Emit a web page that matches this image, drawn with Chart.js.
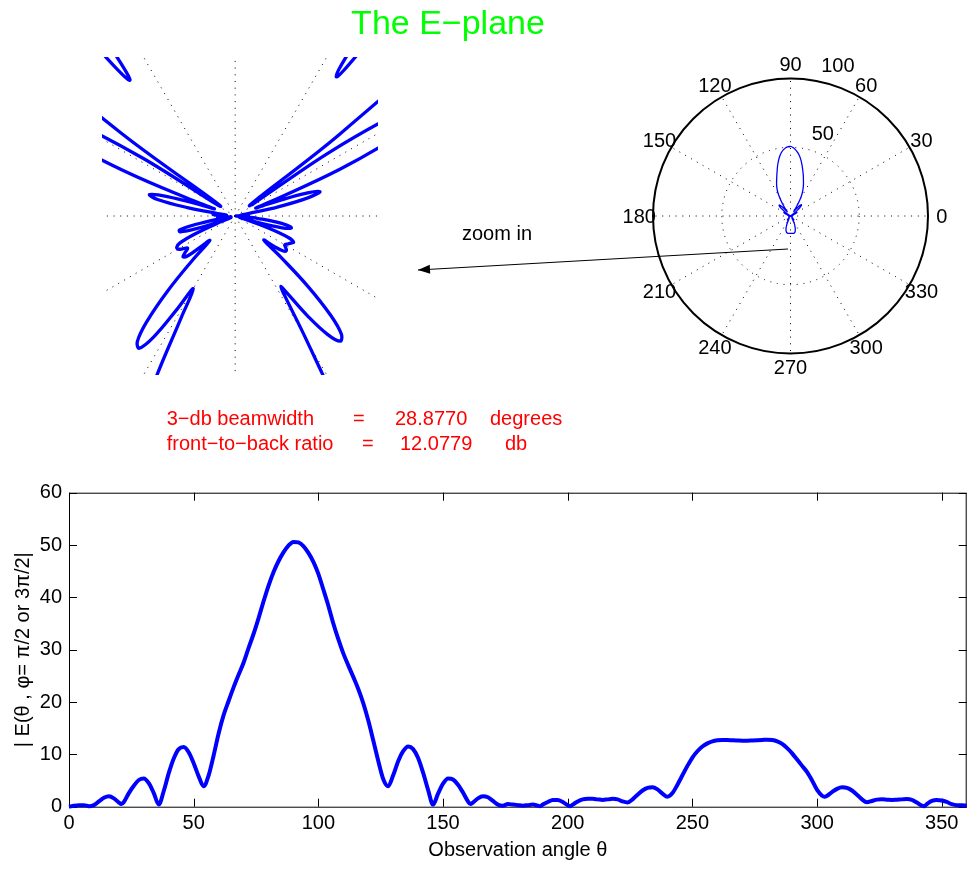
<!DOCTYPE html>
<html>
<head>
<meta charset="utf-8">
<title>The E-plane</title>
<script src="https://cdn.jsdelivr.net/npm/chart.js@4.4.0/dist/chart.umd.min.js"></script>
<style>
  html, body { margin: 0; padding: 0; background: #fff; }
  #wrap { position: relative; width: 968px; height: 869px; overflow: hidden; }
  #wrap canvas { position: absolute; left: 0; top: 0; }
</style>
</head>
<body>
<div id="wrap">
  <canvas id="cLine" width="968" height="869"></canvas>
  <canvas id="cZoom" width="968" height="869"></canvas>
  <canvas id="cPolar" width="968" height="869"></canvas>
</div>
<script>
// ===== data =====
const angles = [
  0, 2, 4, 6, 8, 10, 12, 14, 16, 18, 20, 21, 22, 24, 26, 28, 30, 32, 34, 36, 38, 40,
  42, 44, 46, 48, 50, 52, 54, 56, 58, 60, 62, 64, 66, 68, 70, 72, 74, 76, 78, 80,
  82, 84, 86, 88, 90, 92, 94, 96, 98, 100, 102, 104, 106, 108, 110, 112, 114, 116, 118, 120,
  122, 124, 126, 128, 130, 132, 134, 136, 138, 140, 142, 144, 146, 148, 150, 152, 154, 156, 158, 160,
  161, 162, 164, 166, 168, 170, 172, 174, 176, 178, 180, 182, 184, 186, 188, 189, 190, 192, 194, 196,
  198, 200, 201, 202, 204, 206, 208, 210, 212, 214, 216, 218, 220, 222, 224, 226, 228, 230, 232, 234,
  236, 238, 240, 242, 244, 246, 248, 250, 252, 254, 256, 258, 260, 262, 264, 266, 268, 270, 272, 274,
  276, 278, 280, 282, 284, 286, 288, 290, 292, 294, 296, 298, 300, 302, 303, 304, 306, 308, 310, 312,
  314, 316, 318, 320, 322, 324, 326, 328, 330, 332, 334, 336, 338, 340, 342, 343, 344, 346, 348, 350,
  352, 354, 356, 358, 360
];
const efield = [
  0.0, 0.2, 0.3, 0.3, 0.1, 0.3, 1.0, 1.7, 2.0, 1.6, 0.8, 0.5, 0.9, 2.6, 4.0, 5.1, 5.4, 4.5, 2.6, 0.4, 3.0, 6.4,
  9.2, 11.0, 11.4, 10.4, 8.3, 5.8, 3.9, 6.0, 9.8, 14.0, 17.5, 20.2, 22.8, 25.2, 27.5, 30.3, 33.0, 36.0, 39.2, 42.2,
  44.8, 46.9, 48.6, 49.9, 50.6, 50.5, 49.8, 48.5, 46.8, 44.5, 41.5, 38.4, 35.0, 32.0, 29.3, 27.0, 24.8, 22.5, 19.8, 16.5,
  12.7, 8.8, 5.3, 3.9, 6.0, 8.7, 10.6, 11.5, 11.0, 9.3, 6.5, 3.2, 0.4, 2.5, 4.4, 5.4, 5.2, 4.2, 2.7, 1.0,
  0.5, 0.8, 1.6, 2.0, 1.8, 1.1, 0.4, 0.2, 0.5, 0.4, 0.3, 0.2, 0.3, 0.4, 0.2, 0.1, 0.4, 0.9, 1.3, 1.3,
  0.9, 0.3, 0.1, 0.4, 1.0, 1.4, 1.5, 1.5, 1.4, 1.3, 1.4, 1.5, 1.4, 1.0, 0.8, 1.4, 2.3, 3.1, 3.6, 3.7,
  3.3, 2.5, 1.9, 2.6, 4.2, 6.0, 7.8, 9.4, 10.6, 11.5, 12.1, 12.5, 12.7, 12.75, 12.75, 12.7, 12.65, 12.6, 12.6, 12.65,
  12.7, 12.75, 12.8, 12.75, 12.5, 12.0, 11.2, 10.2, 9.0, 7.8, 6.6, 5.0, 3.2, 2.1, 1.9, 2.1, 2.8, 3.4, 3.7, 3.6,
  3.1, 2.3, 1.4, 0.85, 1.1, 1.35, 1.4, 1.35, 1.3, 1.35, 1.4, 1.45, 1.3, 0.8, 0.2, 0.1, 0.5, 1.1, 1.3, 1.2,
  0.9, 0.5, 0.3, 0.3, 0.2
];
const xTicks = [0, 50, 100, 150, 200, 250, 300, 350];
const yTicks = [0, 10, 20, 30, 40, 50, 60];
const spokeAngles = [0, 30, 60, 90, 120, 150, 180, 210, 240, 270, 300, 330];
const polarRings = [50, 100];
const polarMax = 100;

(function () {
  const FONT = "'Liberation Sans', Arial, Helvetica, sans-serif";
  const BLUE = "#0000ff";
  const rad = (d) => (d * Math.PI) / 180;

  Chart.defaults.font.family = FONT;
  Chart.defaults.color = "#000";

  // polar -> cartesian, the scatter scales do the rest
  const polarPts = angles.map((a, i) => ({
    x: efield[i] * Math.cos(rad(a)),
    y: efield[i] * Math.sin(rad(a)),
  }));

  const baseOpts = {
    responsive: false,
    animation: false,
    devicePixelRatio: 1,
    events: [],
    plugins: { legend: { display: false }, tooltip: { enabled: false } },
  };

  // ===== bottom: |E| vs angle =====
  const frameTicks = {
    id: "frameTicks",
    beforeDatasetsDraw(chart) {
      const { ctx, chartArea: a, scales } = chart;
      const tl = 8;
      ctx.save();
      ctx.strokeStyle = "#000";
      ctx.lineWidth = 1;
      ctx.strokeRect(a.left + 0.5, a.top + 0.5, a.right - a.left - 1, a.bottom - a.top);
      ctx.beginPath();
      xTicks.forEach((v) => {
        const px = Math.round(scales.x.getPixelForValue(v)) + 0.5;
        ctx.moveTo(px, a.bottom); ctx.lineTo(px, a.bottom - tl);
        ctx.moveTo(px, a.top); ctx.lineTo(px, a.top + tl);
      });
      yTicks.forEach((v) => {
        const py = Math.round(scales.y.getPixelForValue(v)) + 0.5;
        ctx.moveTo(a.left, py); ctx.lineTo(a.left + tl, py);
        ctx.moveTo(a.right, py); ctx.lineTo(a.right - tl, py);
      });
      ctx.stroke();
      ctx.restore();
    },
  };

  new Chart(document.getElementById("cLine"), {
    type: "scatter",
    data: {
      datasets: [{
        data: angles.map((a, i) => ({ x: a, y: efield[i] })),
        showLine: true,
        borderColor: BLUE,
        borderWidth: 4,
        pointRadius: 0,
        cubicInterpolationMode: "monotone",
        clip: false,
      }],
    },
    options: {
      ...baseOpts,
      layout: { padding: { top: 492.7, right: 1.3, bottom: 0, left: 0 } },
      scales: {
        x: {
          type: "linear", min: 0, max: 360,
          afterBuildTicks: (s) => { s.ticks = xTicks.map((v) => ({ value: v })); },
          afterFit: (s) => { s.height = 62.3; },
          grid: { display: false, drawTicks: false },
          border: { display: false },
          ticks: { padding: 5, autoSkip: false, maxRotation: 0, font: { size: 20 } },
          title: { display: true, text: "Observation angle θ", font: { size: 20 }, padding: { top: 0, bottom: 7 } },
        },
        y: {
          type: "linear", min: 0, max: 60,
          afterBuildTicks: (s) => { s.ticks = yTicks.map((v) => ({ value: v })); },
          afterFit: (s) => { s.width = 69; },
          grid: { display: false, drawTicks: false },
          border: { display: false },
          ticks: { padding: 7, font: { size: 20 } },
          title: { display: true, text: "| E(θ , φ= π/2 or 3π/2|", font: { size: 20 }, padding: { top: 11, bottom: 0 } },
        },
      },
    },
    plugins: [frameTicks],
  });

  // ===== dotted spokes helper =====
  function spokes(ctx, sx, sy, from, to) {
    ctx.beginPath();
    spokeAngles.forEach((d) => {
      ctx.moveTo(sx.getPixelForValue(from * Math.cos(rad(d))), sy.getPixelForValue(from * Math.sin(rad(d))));
      ctx.lineTo(sx.getPixelForValue(to * Math.cos(rad(d))), sy.getPixelForValue(to * Math.sin(rad(d))));
    });
    ctx.stroke();
  }

  // ===== top-left: zoomed polar =====
  const zoomGrid = {
    id: "zoomGrid",
    beforeDatasetsDraw(chart) {
      const { ctx, chartArea: a, scales } = chart;
      ctx.save();
      ctx.beginPath();
      ctx.rect(a.left, a.top, a.right - a.left, a.bottom - a.top);
      ctx.clip();
      ctx.strokeStyle = "#000";
      ctx.lineWidth = 1;
      ctx.setLineDash([1, 5.7]);
      spokes(ctx, scales.x, scales.y, 0, polarMax);
      ctx.restore();
    },
  };

  new Chart(document.getElementById("cZoom"), {
    type: "scatter",
    data: {
      datasets: [{
        data: polarPts,
        showLine: true,
        borderColor: BLUE,
        borderWidth: 3.3,
        pointRadius: 0,
        tension: 0.4,
      }],
    },
    options: {
      ...baseOpts,
      layout: { padding: { left: 102, top: 57, right: 968 - 378, bottom: 869 - 375 } },
      scales: {
        x: { type: "linear", display: false, min: -3.02, max: 3.24 },
        y: { type: "linear", display: false, min: -3.6, max: 3.6 },
      },
    },
    plugins: [zoomGrid],
  });

  // ===== top-right: full polar + annotations =====
  const polarGrid = {
    id: "polarGrid",
    beforeDatasetsDraw(chart) {
      const { ctx, scales } = chart;
      const sx = scales.x, sy = scales.y;
      const cx = sx.getPixelForValue(0), cy = sy.getPixelForValue(0);
      const k = sx.getPixelForValue(1) - cx;
      ctx.save();
      ctx.strokeStyle = "#000";
      ctx.lineWidth = 1;
      ctx.setLineDash([1, 5.7]);
      spokes(ctx, sx, sy, 0, polarMax);
      polarRings.slice(0, -1).forEach((r) => {
        ctx.beginPath();
        ctx.arc(cx, cy, r * k, 0, Math.PI * 2);
        ctx.stroke();
      });
      ctx.setLineDash([]);
      ctx.lineWidth = 2;
      ctx.beginPath();
      ctx.arc(cx, cy, polarMax * k, 0, Math.PI * 2);
      ctx.stroke();

      ctx.fillStyle = "#000";
      ctx.font = `20px ${FONT}`;
      ctx.textAlign = "center";
      ctx.textBaseline = "middle";
      spokeAngles.forEach((d) => {
        const r = polarMax * 1.1;
        ctx.fillText(String(d), sx.getPixelForValue(r * Math.cos(rad(d))), sy.getPixelForValue(r * Math.sin(rad(d))) + 1);
      });
      ctx.textAlign = "left";
      ctx.textBaseline = "bottom";
      polarRings.forEach((r) => {
        const rr = r + polarMax / 40;
        ctx.fillText("  " + r, sx.getPixelForValue(rr * Math.cos(rad(82))), sy.getPixelForValue(rr * Math.sin(rad(82))));
      });
      ctx.restore();
    },
    afterDraw(chart) {
      const { ctx, scales } = chart;
      ctx.save();
      // arrow: from inside the polar plot towards the zoomed view
      const x0 = scales.x.getPixelForValue(-1.8), y0 = scales.y.getPixelForValue(-24);
      const x1 = 418, y1 = 270;
      const ang = Math.atan2(y1 - y0, x1 - x0);
      ctx.strokeStyle = "#000";
      ctx.fillStyle = "#000";
      ctx.lineWidth = 1;
      ctx.beginPath();
      ctx.moveTo(x0, y0);
      ctx.lineTo(x1, y1);
      ctx.stroke();
      ctx.beginPath();
      ctx.moveTo(x1, y1);
      ctx.lineTo(x1 - 12 * Math.cos(ang) + 4.5 * Math.sin(ang), y1 - 12 * Math.sin(ang) - 4.5 * Math.cos(ang));
      ctx.lineTo(x1 - 12 * Math.cos(ang) - 4.5 * Math.sin(ang), y1 - 12 * Math.sin(ang) + 4.5 * Math.cos(ang));
      ctx.closePath();
      ctx.fill();

      ctx.textBaseline = "alphabetic";
      ctx.textAlign = "left";
      ctx.font = `20px ${FONT}`;
      ctx.fillText("zoom in", 462, 240);

      ctx.fillStyle = "#ff0000";
      ctx.fillText("3−db beamwidth", 166.7, 425);
      ctx.fillText("=", 353, 425);
      ctx.fillText("28.8770", 395, 425);
      ctx.fillText("degrees", 490, 425);
      ctx.fillText("front−to−back ratio", 166.7, 450);
      ctx.fillText("=", 362, 450);
      ctx.fillText("12.0779", 400, 450);
      ctx.fillText("db", 505, 450);

      ctx.fillStyle = "#00ff00";
      ctx.textAlign = "center";
      ctx.font = `34px ${FONT}`;
      ctx.fillText("The E−plane", 448, 34);
      ctx.restore();
    },
  };

  new Chart(document.getElementById("cPolar"), {
    type: "scatter",
    data: {
      datasets: [{
        data: polarPts,
        showLine: true,
        borderColor: BLUE,
        borderWidth: 1.3,
        pointRadius: 0,
        tension: 0.4,
      }],
    },
    options: {
      ...baseOpts,
      layout: { padding: { left: 653, top: 78.5, right: 968 - 928, bottom: 869 - 353.5 } },
      scales: {
        x: { type: "linear", display: false, min: -polarMax, max: polarMax },
        y: { type: "linear", display: false, min: -polarMax, max: polarMax },
      },
    },
    plugins: [polarGrid],
  });
})();
</script>
</body>
</html>
